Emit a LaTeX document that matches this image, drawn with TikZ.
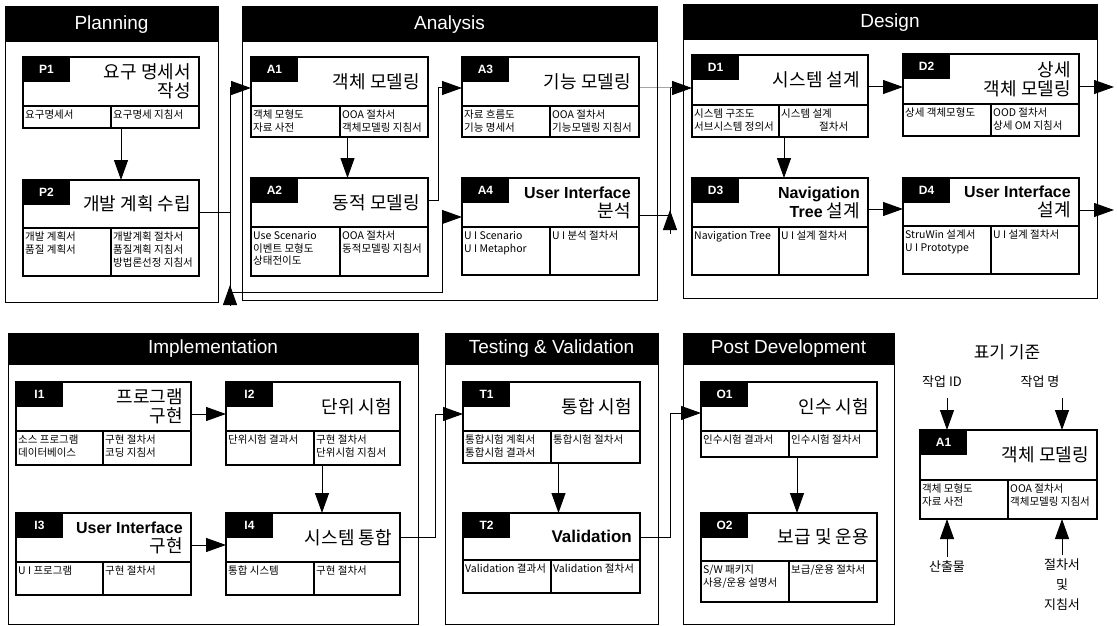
\documentclass[tikz,border=0pt]{standalone}
\usepackage{fontspec}
\setmainfont{Noto Sans CJK KR}
\newfontfamily\hdr{Liberation Sans}
\usetikzlibrary{arrows.meta,calc}

\newcommand\taskbox[9]{%
  \node[draw, line width=1.2pt, inner sep=0pt, outer sep=0pt, anchor=north west,
        minimum width={(#4-#2)*1pt}, minimum height={(#6-#3)*1pt}] (#1) at (#2,#3) {};
  \draw[line width=1.2pt] (#2,#5) -- (#4,#5) (#7,#5) -- (#7,#6);
  \node[tagbox] (#1-id) at (#2,#3) {#8};
  \node[ttl] (#1-t) at ({#4-8},{(#3+#5)/2}) {#9};
  \coordinate (#1-l) at ({#2+2},{#5+4});
  \coordinate (#1-r) at ({#7+2},{#5+4});
}
\newcommand\taskcells[3]{%
  \node[cell] (#1-a) at (#1-l) {#2};
  \node[cell] (#1-b) at (#1-r) {#3};
}

\begin{document}
\begin{tikzpicture}[x=1pt,y=-1pt,
  arr/.style={line width=1pt,-{Triangle[length=20pt,width=14pt]}},
  cline/.style={line width=1pt},
  panel/.style={draw,line width=1pt},
  hbar/.style={fill=black},
  hdrtext/.style={text=white,font=\hdr\fontsize{19}{22}\selectfont,inner sep=0pt},
  tagbox/.style={fill=black,text=white,font=\hdr\bfseries\fontsize{12}{14}\selectfont,
     minimum width=47pt,minimum height=25pt,inner sep=0pt,outer sep=0pt,anchor=north west},
  ttl/.style={font=\fontsize{18}{19}\selectfont,align=right,anchor=east,inner sep=0pt},
  ltn/.style={font=\hdr\bfseries\fontsize{16}{19}\selectfont},
  cell/.style={font=\fontsize{10.5}{12.8}\selectfont,align=left,anchor=north west,inner sep=0pt},
  lgd/.style={font=\fontsize{13}{20}\selectfont,align=center,inner sep=0pt}
]
\useasboundingbox (0,0) rectangle (1117,626);

% ---------- panels ----------
\fill[hbar] (5,7) rectangle (218,42);
\draw[panel] (5,7) rectangle (218,302);
\node[hdrtext] (hP) at (111.5,24.5) {Planning};

\fill[hbar] (242,7) rectangle (657,42);
\draw[panel] (242,7) rectangle (657,300);
\node[hdrtext] (hA) at (449.5,24.5) {Analysis};

\fill[hbar] (683,5) rectangle (1097,40);
\draw[panel] (683,5) rectangle (1097,298);
\node[hdrtext] (hD) at (890,22.5) {Design};

\fill[hbar] (8,333) rectangle (418,365);
\draw[panel] (8,333) rectangle (418,624);
\node[hdrtext] (hI) at (213,349) {Implementation};

\fill[hbar] (445,333) rectangle (658,365);
\draw[panel] (445,333) rectangle (658,624);
\node[hdrtext] (hT) at (551.5,349) {Testing \& Validation};

\fill[hbar] (683,333) rectangle (894,365);
\draw[panel] (683,333) rectangle (894,624);
\node[hdrtext] (hO) at (788.5,349) {Post Development};

% ---------- Planning ----------
\taskbox{P1}{23}{57}{199}{106}{128}{111}{P1}{요구 명세서\\작성}
\taskcells{P1}{요구명세서}{요구명세 지침서}
\taskbox{P2}{23}{180}{199}{228}{276}{111}{P2}{개발 계획 수립}
\taskcells{P2}{개발 계획서\\품질 계획서}{개발계획 절차서\\품질계획 지침서\\방법론선정 지침서}

% ---------- Analysis ----------
\taskbox{A1}{251}{57}{428}{106}{137}{340}{A1}{객체 모델링}
\taskcells{A1}{객체 모형도\\자료 사전}{OOA 절차서\\객체모델링 지침서}
\taskbox{A2}{251}{178}{428}{227}{276}{340}{A2}{동적 모델링}
\taskcells{A2}{Use Scenario\\이벤트 모형도\\상태전이도}{OOA 절차서\\동적모델링 지침서}
\taskbox{A3}{462}{57}{639}{106}{137}{550}{A3}{기능 모델링}
\taskcells{A3}{자료 흐름도\\기능 명세서}{OOA 절차서\\기능모델링 지침서}
\taskbox{A4}{462}{178}{639}{227}{275}{550}{A4}{{\tikzset{ltn}\hdr\bfseries\fontsize{16}{19}\selectfont User Interface}\\분석}
\taskcells{A4}{U I Scenario\\U I Metaphor}{U I 분석 절차서}

% ---------- Design ----------
\taskbox{D1}{692}{55}{868}{105}{137}{779}{D1}{시스템 설계}
\taskcells{D1}{시스템 구조도\\서브시스템 정의서}{시스템 설계\\\hspace*{38pt}절차서}
\taskbox{D2}{903}{54}{1079}{104}{136}{991}{D2}{상세\\객체 모델링}
\taskcells{D2}{상세 객체모형도}{OOD 절차서\\상세 OM 지침서}
\taskbox{D3}{692}{178}{868}{227}{275}{779}{D3}{{\hdr\bfseries\fontsize{16}{19}\selectfont Navigation}\\{\hdr\bfseries\fontsize{16}{19}\selectfont Tree} 설계}
\taskcells{D3}{Navigation Tree}{U I 설계 절차서}
\taskbox{D4}{903}{178}{1079}{226}{274}{991}{D4}{{\hdr\bfseries\fontsize{16}{19}\selectfont User Interface}\\설계}
\taskcells{D4}{StruWin 설계서\\U I Prototype}{U I 설계 절차서}

% ---------- Implementation ----------
\taskbox{I1}{16}{382}{191}{431}{465}{103}{I1}{프로그램\\구현}
\taskcells{I1}{소스 프로그램\\데이터베이스}{구현 절차서\\코딩 지침서}
\taskbox{I2}{226}{382}{400}{431}{465}{314}{I2}{단위 시험}
\taskcells{I2}{단위시험 결과서}{구현 절차서\\단위시험 지침서}
\taskbox{I3}{16}{513}{191}{562}{595}{103}{I3}{{\hdr\bfseries\fontsize{16}{19}\selectfont User Interface}\\구현}
\taskcells{I3}{U I 프로그램}{구현 절차서}
\taskbox{I4}{226}{513}{400}{562}{595}{314}{I4}{시스템 통합}
\taskcells{I4}{통합 시스템}{구현 절차서}

% ---------- Testing ----------
\taskbox{T1}{463}{382}{640}{431}{463}{551}{T1}{통합 시험}
\taskcells{T1}{통합시험 계획서\\통합시험 결과서}{통합시험 절차서}
\taskbox{T2}{463}{513}{640}{560}{593}{551}{T2}{{\hdr\bfseries\fontsize{17}{19}\selectfont Validation}}
\taskcells{T2}{Validation 결과서}{Validation 절차서}

% ---------- Post Development ----------
\taskbox{O1}{701}{382}{877}{431}{457}{789}{O1}{인수 시험}
\taskcells{O1}{인수시험 결과서}{인수시험 절차서}
\taskbox{O2}{701}{513}{877}{561}{602}{789}{O2}{보급 및 운용}
\taskcells{O2}{S/W 패키지\\사용/운용 설명서}{보급/운용 절차서}

% ---------- connectors ----------
\coordinate (jA) at (230,88);
\coordinate (jB) at (230,292);
\coordinate (jC) at (442,292);
\coordinate (jD) at (438,200);
\coordinate (jE) at (670,88);
\coordinate (jF) at (670,215);
\coordinate (oD2) at (1114,87);
\coordinate (oD4) at (1114,210);
\coordinate (jG) at (435,537);
\coordinate (jH) at (670,537);

\draw[arr] ([xshift=10pt]P1.south) -- ([xshift=10pt]P2.north);
\draw[cline] (P2.east |- 0,212) -- (230,212);
\draw[arr] (jB) -- (jA) -- (A1.west |- jA);
\draw[arr] (jB) -- (jC) -- (442,217) -- (A4.west |- 0,217);
\draw[arr] (230,305) -- (230,285);

\draw[arr] ([xshift=8pt]A1.south) -- ([xshift=8pt]A2.north);
\draw[arr] (A2.east |- jD) -- (jD) -- (438,88) -- (A3.west |- 0,88);
\draw[arr] (A3.east |- jE) -- (jE) -- (D1.west |- jE);
\draw[cline] (A4.east |- jF) -- (jF) -- (jE);
\draw[arr] (670,234) -- (670,210);

\draw[arr] (D1.east |- 0,87) -- (D2.west |- 0,87);
\draw[arr] ([xshift=4pt]D1.south) -- ([xshift=4pt]D3.north);
\draw[arr] (D3.east |- 0,209) -- (D4.west |- 0,209);
\draw[arr] (D2.east |- oD2) -- (oD2);
\draw[arr] (D4.east |- oD4) -- (oD4);

\draw[arr] (I1.east |- 0,414) -- (I2.west |- 0,414);
\draw[arr] ([xshift=9pt]I2.south) -- ([xshift=9pt]I4.north);
\draw[arr] (I3.east |- 0,545) -- (I4.west |- 0,545);
\draw[arr] (I4.east |- jG) -- (jG) -- (435,414) -- (T1.west |- 0,414);

\draw[arr] ([xshift=7pt]T1.south) -- ([xshift=7pt]T2.north);
\draw[arr] (T2.east |- jH) -- (jH) -- (670,413) -- (O1.west |- 0,413);
\draw[arr] ([xshift=8pt]O1.south) -- ([xshift=8pt]O2.north);

% ---------- legend ----------
\node[font=\fontsize{17}{20}\selectfont,inner sep=0pt] (lgT) at (1007,352) {표기 기준};
\taskbox{L}{920}{430}{1097}{480}{519}{1008}{A1}{객체 모델링}
\taskcells{L}{객체 모형도\\자료 사전}{OOA 절차서\\객체모델링 지침서}
\node[lgd] (lid) at (942,382) {작업 ID};
\node[lgd] (lnm) at (1040,382) {작업 명};
\node[lgd] (lout) at (947,567) {산출물};
\node[lgd,anchor=north] (lpr) at (1062,559) {절차서\\및\\지침서};
\draw[arr] (947,398) -- (L.north -| 947,0);
\draw[arr] (1062,398) -- (L.north -| 1062,0);
\draw[arr] (lout.north -| 947,0) ++(0,-4) -- (L.south -| 947,0);
\draw[arr] (lpr.north) ++(0,-4) -- (L.south -| 1062,0);
\end{tikzpicture}
\end{document}
